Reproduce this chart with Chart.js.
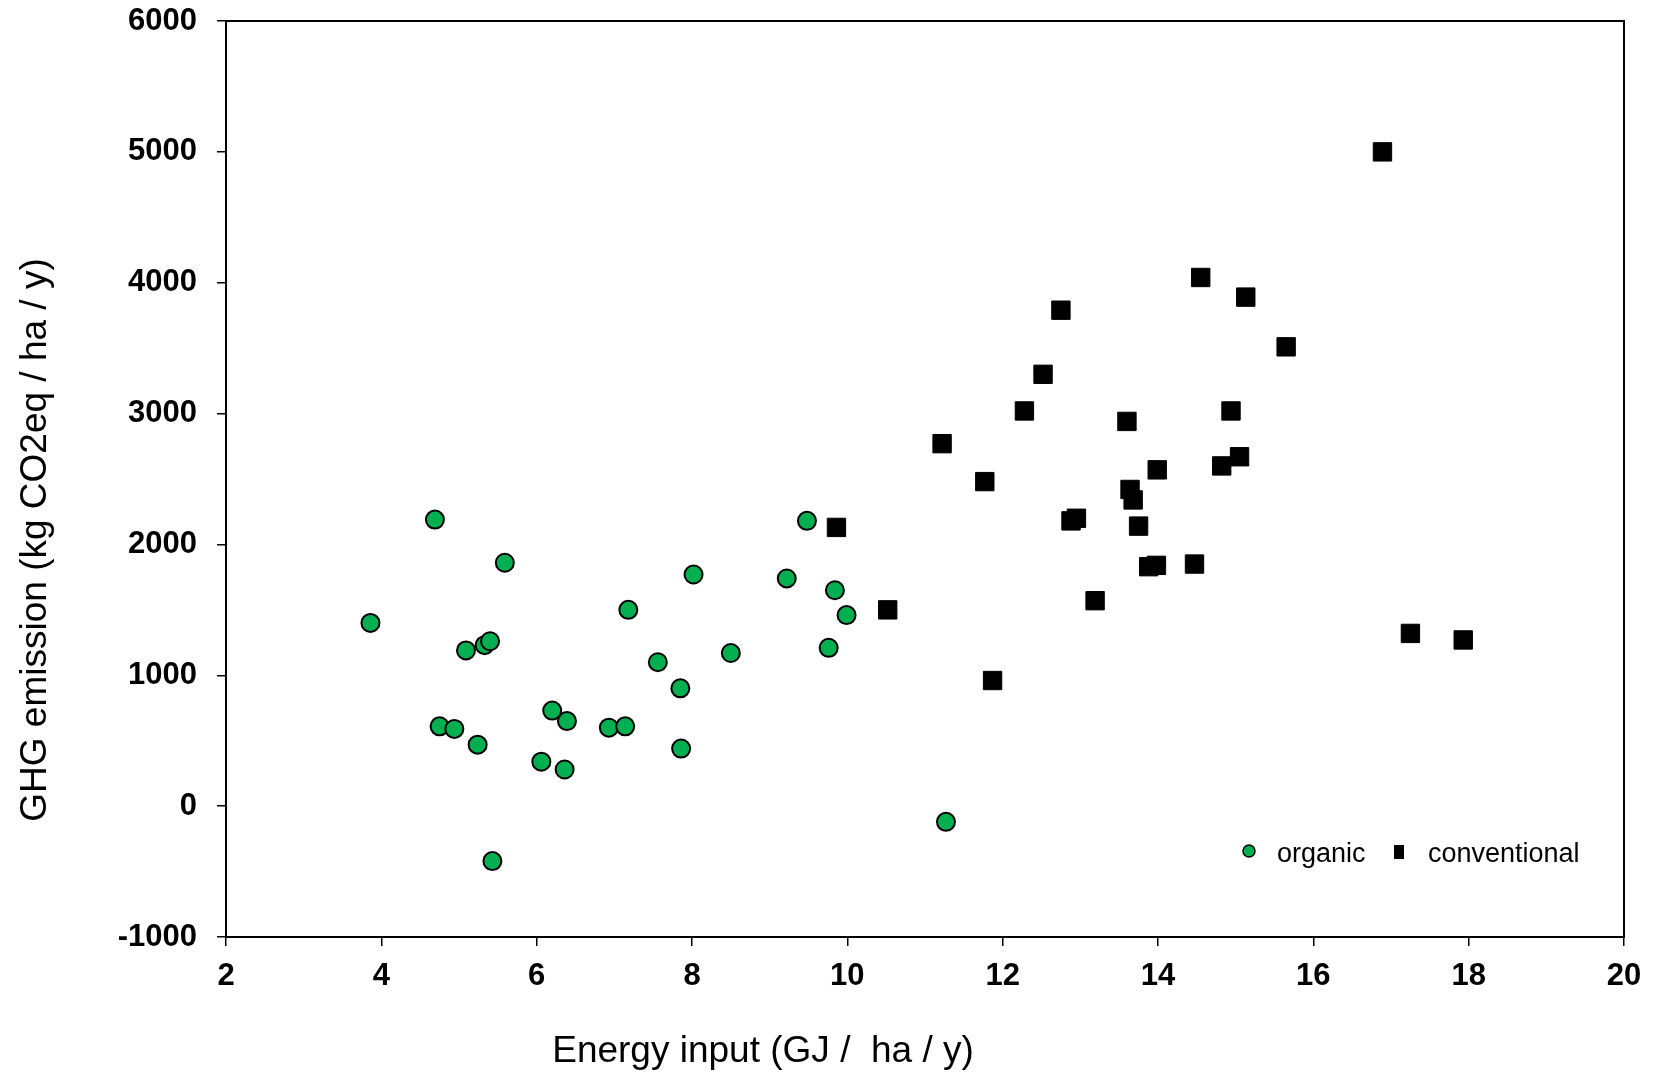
<!DOCTYPE html>
<html>
<head>
<meta charset="utf-8">
<title>GHG emission vs energy input</title>
<script src="https://cdn.jsdelivr.net/npm/chart.js@4.4.0/dist/chart.umd.min.js"></script>
<style>
    html, body { margin: 0; padding: 0; background: #fff; }
    #wrap { width: 1657px; height: 1072px; }
</style>
</head>
<body>
<div id="wrap"><canvas id="ghgChart" width="1657" height="1072"></canvas></div>
<script>
// organic farms
const organicEnergy = [3.86, 4.69, 4.75, 4.94, 5.09, 5.24, 5.33, 5.40, 5.43, 5.59, 6.06, 6.20, 6.36, 6.39,
    6.93, 7.14, 7.18, 7.56, 7.85, 7.86, 8.02, 8.50, 9.22, 9.48, 9.76, 9.84, 9.99, 11.27];
const organicGhg = [1400, 2190, 610, 590, 1190, 470, 1230, 1260, -420, 1860, 340, 730, 280, 650,
    600, 610, 1500, 1100, 900, 440, 1770, 1170, 1740, 2180, 1210, 1650, 1460, -120];

// conventional farms
const conventionalEnergy = [9.86, 10.52, 11.22, 11.77, 11.87, 12.28, 12.52, 12.75, 12.88, 12.95, 13.19, 13.60, 13.64, 13.68,
    13.75, 13.88, 13.98, 13.99, 14.47, 14.55, 14.82, 14.94, 15.05, 15.13, 15.65, 16.89, 17.25, 17.93];
const conventionalGhg = [2130, 1500, 2770, 2480, 960, 3020, 3300, 3790, 2180, 2200, 1570, 2940, 2420, 2340,
    2140, 1830, 1840, 2570, 1850, 4040, 2600, 3020, 2670, 3890, 3510, 5000, 1320, 1270];

const xTickValues = [2, 4, 6, 8, 10, 12, 14, 16, 18, 20];
const yTickValues = [-1000, 0, 1000, 2000, 3000, 4000, 5000, 6000];

const seriesNames = ['organic', 'conventional'];
const xTitle = 'Energy input (GJ /  ha / y)';
const yTitle = 'GHG emission (kg CO2eq / ha / y)';

const GREEN = '#00B050';
const FONT = '"Liberation Sans", Arial, sans-serif';

Chart.defaults.font.family = FONT;
Chart.defaults.color = '#000';

function toPoints(xs, ys) {
    return xs.map((x, i) => ({ x: x, y: ys[i] }));
}

// box round the plot area
const framePlugin = {
    id: 'frame',
    beforeDatasetsDraw(chart) {
        const a = chart.chartArea;
        const ctx = chart.ctx;
        ctx.save();
        ctx.strokeStyle = '#000';
        ctx.lineWidth = 2;
        ctx.strokeRect(a.left, a.top, a.right - a.left, a.bottom - a.top);
        ctx.restore();
    }
};

// axis titles + legend inside the plot
const labelsPlugin = {
    id: 'labels',
    afterDraw(chart) {
        const ctx = chart.ctx;
        ctx.save();
        ctx.fillStyle = '#000';
        ctx.font = '37px ' + FONT;
        ctx.textAlign = 'center';
        ctx.textBaseline = 'alphabetic';
        ctx.fillText(xTitle, 763, 1062);

        ctx.translate(46, 540);
        ctx.rotate(-Math.PI / 2);
        ctx.fillText(yTitle, 0, 0);
        ctx.restore();

        // legend
        ctx.save();
        ctx.beginPath();
        ctx.arc(1249, 851, 6, 0, Math.PI * 2);
        ctx.fillStyle = GREEN;
        ctx.fill();
        ctx.lineWidth = 1.5;
        ctx.strokeStyle = '#000';
        ctx.stroke();

        ctx.fillStyle = '#000';
        ctx.fillRect(1394, 845, 10, 14);

        ctx.font = '27px ' + FONT;
        ctx.textAlign = 'left';
        ctx.textBaseline = 'alphabetic';
        ctx.fillText(seriesNames[0], 1277, 862);
        ctx.fillText(seriesNames[1], 1428, 862);
        ctx.restore();
    }
};

const ctx = document.getElementById('ghgChart').getContext('2d');
const ghgChart = new Chart(ctx, {
    type: 'scatter',
    data: {
        datasets: [
            {
                label: seriesNames[0],
                data: toPoints(organicEnergy, organicGhg),
                pointStyle: 'circle',
                pointRadius: 9,
                pointHoverRadius: 9,
                backgroundColor: GREEN,
                borderColor: '#000',
                borderWidth: 2
            },
            {
                label: seriesNames[1],
                data: toPoints(conventionalEnergy, conventionalGhg),
                pointStyle: 'rect',
                pointRadius: 13,
                pointHoverRadius: 13,
                backgroundColor: '#000',
                borderColor: '#000',
                borderWidth: 1
            }
        ]
    },
    options: {
        responsive: false,
        animation: false,
        devicePixelRatio: 1,
        layout: { padding: { left: 0, right: 33, top: 21, bottom: 0 } },
        plugins: {
            legend: { display: false },
            tooltip: { enabled: false }
        },
        scales: {
            x: {
                type: 'linear',
                min: 2,
                max: 20,
                afterBuildTicks: (axis) => { axis.ticks = xTickValues.map(v => ({ value: v })); },
                afterFit: (scale) => {
                    scale.height = 135;
                    scale.paddingLeft = 0;
                    scale.paddingRight = 0;
                },
                border: { display: false },
                grid: {
                    drawOnChartArea: false,
                    drawTicks: true,
                    tickLength: 9,
                    color: '#000',
                    lineWidth: 1.5
                },
                ticks: {
                    color: '#000',
                    padding: 12,
                    maxRotation: 0,
                    font: { size: 31, weight: 'bold' }
                }
            },
            y: {
                type: 'linear',
                min: -1000,
                max: 6000,
                afterBuildTicks: (axis) => { axis.ticks = yTickValues.map(v => ({ value: v })); },
                afterFit: (scale) => {
                    scale.width = 226;
                    scale.paddingTop = 0;
                    scale.paddingBottom = 0;
                },
                border: { display: false },
                grid: {
                    drawOnChartArea: false,
                    drawTicks: true,
                    tickLength: 9,
                    color: '#000',
                    lineWidth: 1.5
                },
                ticks: {
                    color: '#000',
                    padding: 20,
                    font: { size: 31, weight: 'bold' },
                    callback: (v) => String(v)
                }
            }
        }
    },
    plugins: [framePlugin, labelsPlugin]
});
</script>
</body>
</html>
